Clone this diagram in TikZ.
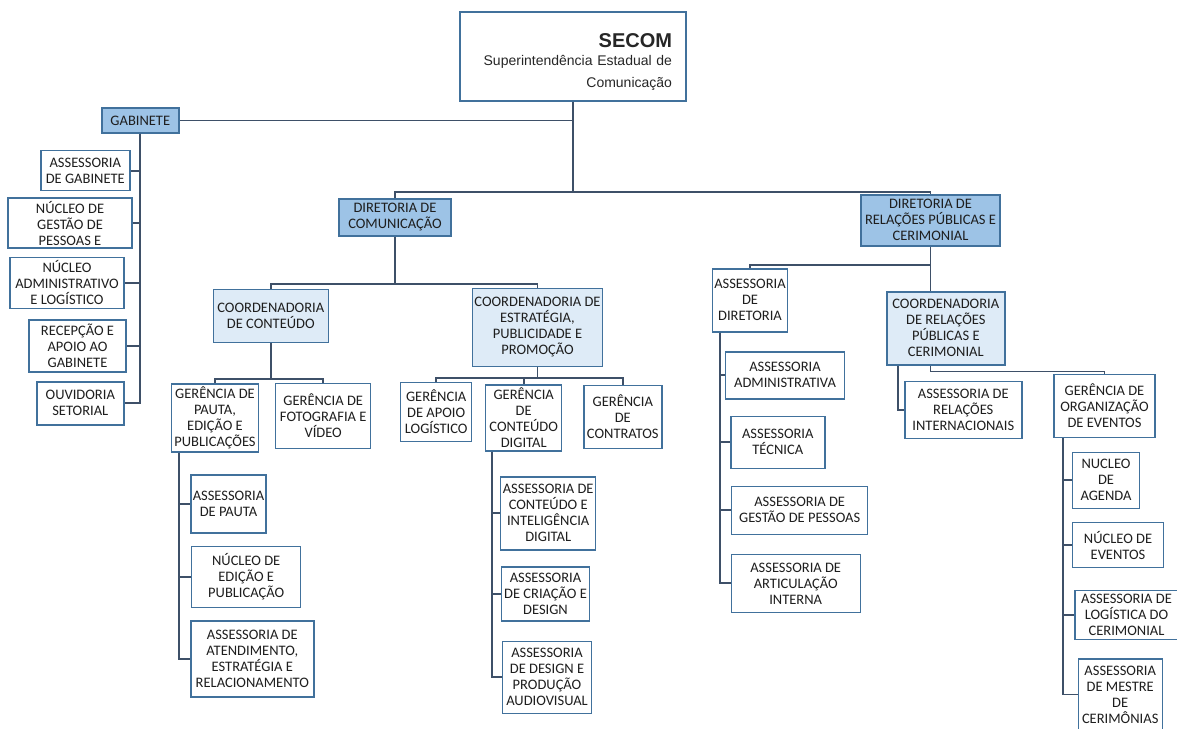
\documentclass[tikz,border=0pt]{standalone}
\usepackage{fontspec}
\setmainfont{Carlito}
\newfontfamily\secomfont{Liberation Sans}
\definecolor{boxline}{RGB}{65,113,156}
\definecolor{linkline}{RGB}{62,80,104}
\definecolor{dirblue}{RGB}{157,195,230}
\definecolor{coordblue}{RGB}{222,235,247}
\definecolor{textgray}{RGB}{30,30,30}
\tikzset{
  unit/.style={draw=boxline, line width=1.4pt, fill=white, align=center, inner sep=0.5pt, text=textgray, font=\fontsize{14.5}{16}\selectfont},
  dirbox/.style={unit, fill=dirblue},
  coordbox/.style={unit, fill=coordblue},
  link/.style={draw=linkline, line width=1.7pt},
}
\begin{document}
\begin{tikzpicture}[x=1pt,y=-1pt]
    \useasboundingbox (0,0) rectangle (1177,728);
    \node[draw=boxline, line width=1.4pt, minimum width=226, minimum height=89, text width=198, align=right, inner sep=0pt, text=black!85, font=\secomfont\fontsize{14}{18}\selectfont] (secom) at (573,56.5) {\rule{0pt}{25pt}{\fontsize{20}{20}\selectfont\bfseries SECOM}\\ Superintendência Estadual de\\[4pt] Comunicação};

    \node[dirbox, minimum width=77, minimum height=25] (gab) at (140.3,120.5) {GABINETE};
    \node[unit, minimum width=89, minimum height=40] (agab) at (85.3,170.7) {ASSESSORIA\\DE GABINETE};
    \node[unit, minimum width=124, minimum height=50] (ngp) at (70,223) {NÚCLEO DE\\GESTÃO DE\\PESSOAS E};
    \node[unit, minimum width=114, minimum height=51] (nadm) at (67,282.8) {NÚCLEO\\ADMINISTRATIVO\\E LOGÍSTICO};
    \node[unit, minimum width=97, minimum height=52] (rec) at (77.5,345.8) {RECEPÇÃO E\\APOIO AO\\GABINETE};
    \node[unit, minimum width=87, minimum height=43] (ouv) at (80.3,403.3) {OUVIDORIA\\SETORIAL};

    \node[dirbox, minimum width=112, minimum height=37] (dcom) at (395,217.5) {DIRETORIA DE\\COMUNICAÇÃO};
    \node[coordbox, minimum width=115, minimum height=53] (ccont) at (270.8,315.7) {COORDENADORIA\\DE CONTEÚDO};
    \node[coordbox, minimum width=130, minimum height=78] (cest) at (537.5,327.5) {COORDENADORIA DE\\ESTRATÉGIA,\\PUBLICIDADE E\\PROMOÇÃO};
    \node[unit, minimum width=87, minimum height=68] (gpauta) at (215,417.8) {GERÊNCIA DE\\PAUTA,\\EDIÇÃO E\\PUBLICAÇÕES};
    \node[unit, minimum width=95, minimum height=65] (gfoto) at (323.2,415.8) {GERÊNCIA DE\\FOTOGRAFIA E\\VÍDEO};
    \node[unit, minimum width=71, minimum height=59] (gapoio) at (436.2,412) {GERÊNCIA\\DE APOIO\\LOGÍSTICO};
    \node[unit, minimum width=76, minimum height=66] (gcdig) at (523.7,417.8) {GERÊNCIA\\DE\\CONTEÚDO\\DIGITAL};
    \node[unit, minimum width=78, minimum height=63] (gcontr) at (622.8,416.7) {GERÊNCIA\\DE\\CONTRATOS};
    \node[unit, minimum width=75, minimum height=58] (apauta) at (228.5,503.8) {ASSESSORIA\\DE PAUTA};
    \node[unit, minimum width=109, minimum height=61] (nedic) at (246.2,577) {NÚCLEO DE\\EDIÇÃO E\\PUBLICAÇÃO};
    \node[unit, minimum width=123, minimum height=76] (aaten) at (252.3,658.8) {ASSESSORIA DE\\ATENDIMENTO,\\ESTRATÉGIA E\\RELACIONAMENTO};
    \node[unit, minimum width=95, minimum height=73] (acid) at (548.2,513.3) {ASSESSORIA DE\\CONTEÚDO E\\INTELIGÊNCIA\\DIGITAL};
    \node[unit, minimum width=88, minimum height=54] (acri) at (545.5,593.8) {ASSESSORIA\\DE CRIAÇÃO E\\DESIGN};
    \node[unit, minimum width=89, minimum height=72] (adpa) at (547,677.2) {ASSESSORIA\\DE DESIGN E\\PRODUÇÃO\\AUDIOVISUAL};

    \node[dirbox, minimum width=139, minimum height=51] (drp) at (930.5,220.3) {DIRETORIA DE\\RELAÇÕES PÚBLICAS E\\CERIMONIAL};
    \node[unit, minimum width=75, minimum height=63] (adir) at (750,300.3) {ASSESSORIA\\DE\\DIRETORIA};
    \node[coordbox, minimum width=118, minimum height=73] (crp) at (945.8,328.3) {COORDENADORIA\\DE RELAÇÕES\\PÚBLICAS E\\CERIMONIAL};
    \node[unit, minimum width=117, minimum height=57] (arri) at (963.3,410) {ASSESSORIA DE\\RELAÇÕES\\INTERNACIONAIS};
    \node[unit, minimum width=101, minimum height=63] (gorg) at (1104.5,406) {GERÊNCIA DE\\ORGANIZAÇÃO\\DE EVENTOS};
    \node[unit, minimum width=119, minimum height=47] (aadm) at (785,375.3) {ASSESSORIA\\ADMINISTRATIVA};
    \node[unit, minimum width=94, minimum height=52] (atec) at (777.8,442.2) {ASSESSORIA\\TÉCNICA};
    \node[unit, minimum width=136, minimum height=48] (agp) at (799.7,510.2) {ASSESSORIA DE\\GESTÃO DE PESSOAS};
    \node[unit, minimum width=129, minimum height=58] (aart) at (795.7,583.3) {ASSESSORIA DE\\ARTICULAÇÃO\\INTERNA};
    \node[unit, minimum width=67, minimum height=56] (nage) at (1106,480.3) {NUCLEO\\DE\\AGENDA};
    \node[unit, minimum width=91, minimum height=45] (neve) at (1118,545.2) {NÚCLEO DE\\EVENTOS};
    \node[unit, minimum width=103, minimum height=49] (alog) at (1126.5,614.7) {ASSESSORIA DE\\LOGÍSTICA DO\\CERIMONIAL};
    \node[unit, minimum width=84, minimum height=71] (amest) at (1120.2,694.5) {ASSESSORIA\\DE MESTRE\\DE\\CERIMÔNIAS};

    \coordinate (jtop) at (573,192);
    \draw[link] (secom.south) |- (gab.east);
    \draw[link] (secom.south) -- (jtop);
    \draw[link] (dcom.north) |- (jtop) -| (drp.north);
    \foreach \n in {agab,ngp,nadm,rec,ouv}
      \draw[link] (gab.south) |- (\n.east);

    \coordinate (jcom) at (dcom.south |- 0,284);
    \draw[link] (dcom.south) -- (jcom);
    \draw[link] (ccont.north) |- (jcom) -| (cest.north);
    \coordinate (jcont) at (ccont.south |- 0,379);
    \draw[link] (ccont.south) -- (jcont);
    \draw[link] (gpauta.north) |- (jcont) -| (gfoto.north);
    \coordinate (jest) at (cest.south |- 0,378);
    \draw[link] (cest.south) -- (jest);
    \draw[link] (gapoio.north) |- (jest) -| (gcontr.north);
    \draw[link] (gcdig.north) |- (jest);
    \foreach \n in {apauta,nedic,aaten}
      \draw[link] ([xshift=8]gpauta.south west) |- (\n.west);
    \foreach \n in {acid,acri,adpa}
      \draw[link] ([xshift=7]gcdig.south west) |- (\n.west);

    \coordinate (jrp) at (drp.south |- 0,265);
    \draw[link] (drp.south) -- (drp.south |- crp.north);
    \draw[link] (adir.north) |- (jrp);
    \foreach \n in {aadm,atec,agp,aart}
      \draw[link] ([xshift=8]adir.south west) |- (\n.west);
    \draw[link] (drp.south |- crp.south) -- ++(0,6) -| (gorg.north);
    \draw[link] ([xshift=12]crp.south west) |- (arri.west);
    \foreach \n in {nage,neve,alog,amest}
      \draw[link] ([xshift=10]gorg.south west) |- (\n.west);
  \end{tikzpicture}
\end{document}
